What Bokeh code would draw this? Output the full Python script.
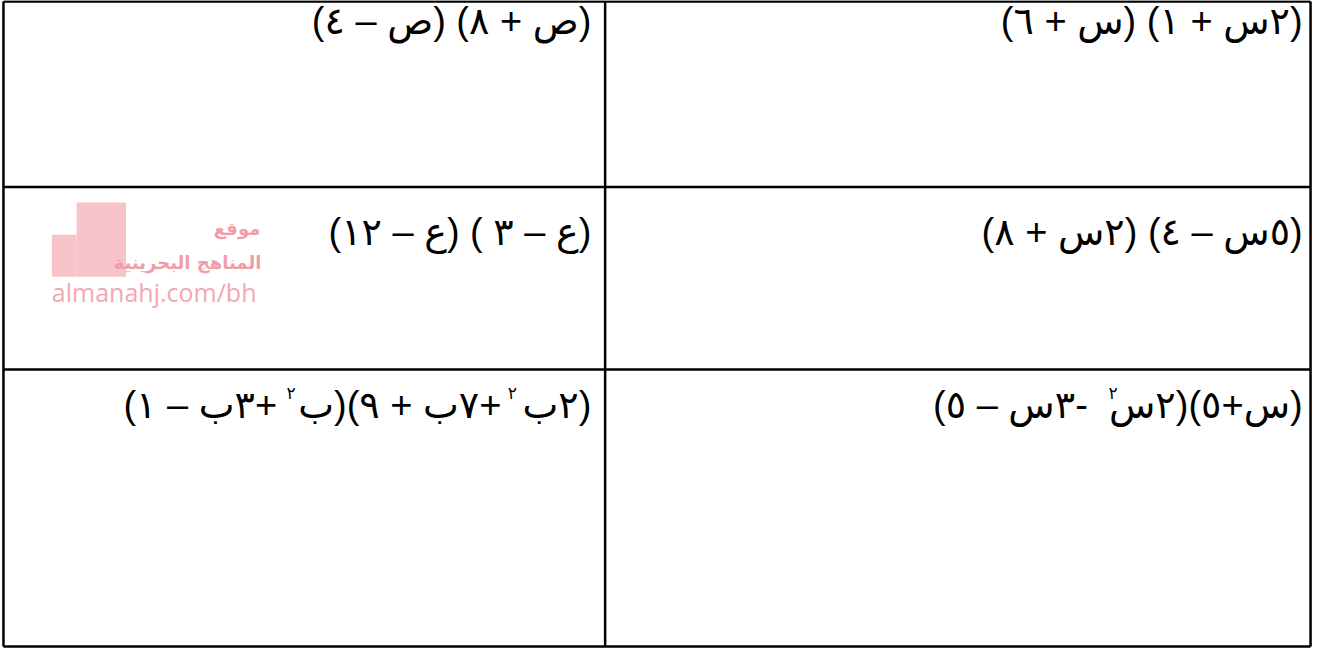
from bokeh.plotting import figure
from bokeh.models import Range1d
from bokeh.core.properties import value
from bokeh.embed import file_html
from bokeh.resources import INLINE

NB = "\u00a0"   # keeps room for a superscript inside the line

# ---- table content (right column is the first column in RTL order) ----
right_col = ["(٢س + ١) (س + ٦)",
             "(٥س – ٤) (٢س + ٨)",
             "(س+٥)(٢س" + NB + " -٣س – ٥)"]
left_col = ["(ص + ٨) (ص – ٤)",
            "(ع – ٣ ) (ع – ١٢)",
            "(٢ب" + NB + " +٧ب + ٩)(ب" + NB + " +٣ب – ١)"]
superscripts = ["٢", "٢", "٢"]

# watermark texts
wm_texts = ["موقع", "المناهج البحرينية", "almanahj.com/bh"]

# ---- layout (reference pixel space) ----
col_x = [3, 612, 1326]
row_y = [1, 191, 378, 662]
text_right = [1318, 598]
text_y = [21, 237, 414]
sup_x = [1126, 518, 294]
sup_y = [403, 403, 403]

RLE, PDF = "\u202b", "\u202c"
FONT = value("Liberation Sans, DejaVu Sans")

p = figure(width=1314, height=648, x_range=Range1d(0, 1330), y_range=Range1d(664, 0),
           output_backend="svg", toolbar_location=None, min_border=0)
p.xaxis.visible = False
p.yaxis.visible = False
p.grid.visible = False
p.outline_line_color = None
p.background_fill_color = "white"
p.border_fill_color = "white"

# watermark
p.quad(left=[77, 52], right=[127, 77], top=[207, 240], bottom=[283, 283],
       fill_color="#f7c4ca", line_color=None)
p.text(x=[263, 264], y=[234, 268], text=[RLE + t + PDF for t in wm_texts[:2]],
       text_align="right", text_baseline="middle", text_color="#ef9ea8",
       text_font=value("DejaVu Sans"), text_font_style="bold",
       text_font_size="18px")
p.text(x=[52], y=[299], text=[wm_texts[2]], text_align="left", text_baseline="middle",
       text_color="#f2a8b1", text_font=value("Open Sans"), text_font_size="25px")

# grid lines
xs, ys = [], []
for x in col_x:
    xs.append([x, x]); ys.append([row_y[0], row_y[-1]])
for y in row_y:
    xs.append([col_x[0], col_x[-1]]); ys.append([y, y])
p.multi_line(xs=xs, ys=ys, line_color="black", line_width=2.5)

# cell texts
p.text(x=[text_right[0]] * 3 + [text_right[1]] * 3, y=text_y + text_y,
       text=[RLE + t + PDF for t in right_col + left_col],
       text_align="right", text_baseline="middle", text_color="black",
       text_font=FONT, text_font_size="38px")

# superscripts
p.text(x=sup_x, y=sup_y, text=superscripts, text_align="center", text_baseline="middle",
       text_color="black", text_font=FONT, text_font_size="17px")

open("out.html", "w").write(file_html(p, INLINE))
